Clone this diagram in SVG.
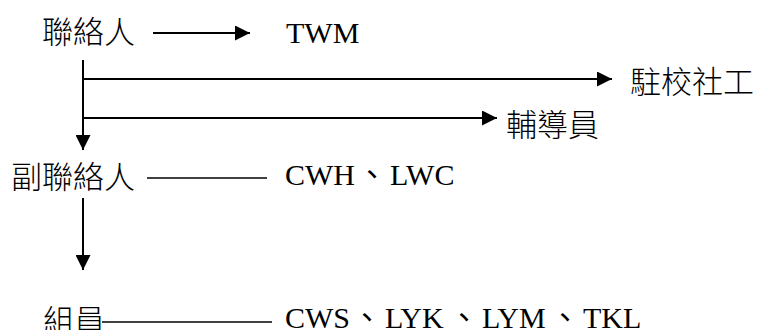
<svg xmlns="http://www.w3.org/2000/svg" width="760" height="330" viewBox="0 0 760 330">
  <style>
    .cjk { font-family: "Noto Sans CJK TC", sans-serif; font-size: 31px; font-weight: 300; fill: #000; }
    .lat { font-family: "Liberation Serif", "Noto Sans CJK TC", serif; font-size: 30px; fill: #000; }
    .arrow { stroke: #000; stroke-width: 2; fill: none; marker-end: url(#head); }
    .link { stroke: #000; stroke-width: 1.5; fill: none; }
  </style>
  <defs>
    <marker id="head" markerUnits="userSpaceOnUse" markerWidth="15" markerHeight="15" refX="15" refY="7.5" orient="auto">
      <path d="M0,0 L15,7.5 L0,15 Z" fill="#000"/>
    </marker>
  </defs>
  <rect width="760" height="330" fill="#fff"/>

  <g id="connectors">
    <line class="arrow" x1="153" y1="33" x2="250" y2="33"/>
    <line class="arrow" x1="83" y1="60" x2="83" y2="150"/>
    <line class="arrow" x1="82" y1="79" x2="612" y2="79"/>
    <line class="arrow" x1="82" y1="118" x2="497" y2="118"/>
    <line class="link" x1="147" y1="178" x2="267" y2="178"/>
    <line class="arrow" x1="83" y1="198" x2="83" y2="270"/>
    <line class="link" x1="102" y1="322" x2="272" y2="322"/>
  </g>

  <g id="contact">
    <text class="cjk" x="42" y="43">聯絡人</text>
  </g>
  <g id="contact-members">
    <text class="lat" x="286" y="43">TWM</text>
  </g>
  <g id="school-social-worker">
    <text class="cjk" x="630" y="93">駐校社工</text>
  </g>
  <g id="counselor">
    <text class="cjk" x="506" y="136">輔導員</text>
  </g>
  <g id="deputy-contact">
    <text class="cjk" x="11" y="188">副聯絡人</text>
  </g>
  <g id="deputy-members">
    <text class="lat" x="285" y="185">CWH<tspan x="357">、</tspan><tspan x="390">LWC</tspan></text>
  </g>
  <g id="team-member">
    <text class="cjk" x="43" y="332">組員</text>
  </g>
  <g id="team-members">
    <text class="lat" x="285" y="328">CWS<tspan x="352">、</tspan><tspan x="385">LYK</tspan><tspan x="449">、</tspan><tspan x="482">LYM</tspan><tspan x="550">、</tspan><tspan x="583">TKL</tspan></text>
  </g>
</svg>
